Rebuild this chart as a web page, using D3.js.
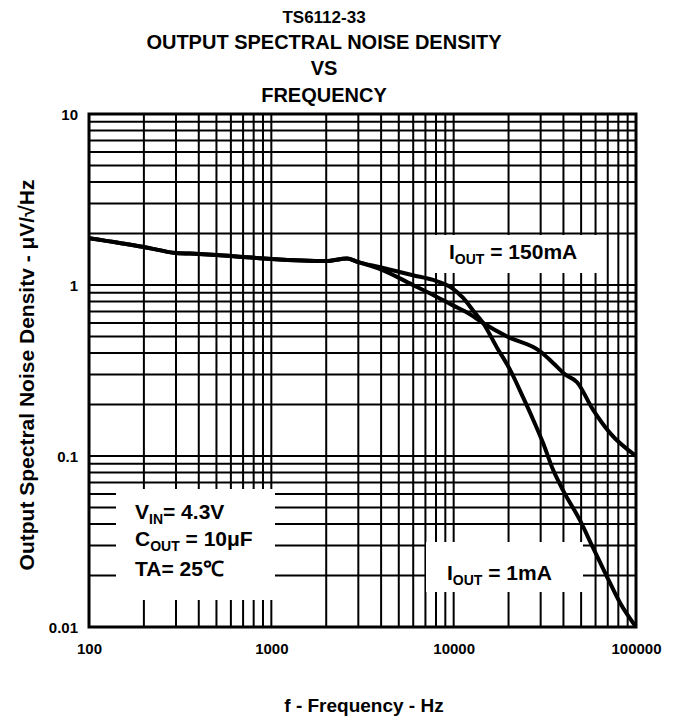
<!DOCTYPE html>
<html>
<head>
<meta charset="utf-8">
<script src="https://cdn.jsdelivr.net/npm/d3@7"></script>
<style>
  html, body { margin: 0; padding: 0; background: #fff; }
  svg { display: block; }
  text { font-family: "Liberation Sans", Arial, Helvetica, sans-serif; font-weight: bold; fill: #000; }
</style>
</head>
<body>
<svg id="chart" width="680" height="719"></svg>
<script>
// ---- data ----
const titleLines = ["TS6112-33", "OUTPUT SPECTRAL NOISE DENSITY", "VS", "FREQUENCY"];
const xTickValues = [100, 1000, 10000, 100000];
const xTickLabels = ["100", "1000", "10000", "100000"];
const yTickValues = [10, 1, 0.1, 0.01];
const yTickLabels = ["10", "1", "0.1", "0.01"];
const xAxisTitle = "f - Frequency - Hz";
const yAxisTitle = "Output Spectral Noise Densitv - μV/√Hz";

// shared low-frequency portion (both currents overlap)
const freqCommon  = [100, 200, 300, 400, 500, 700, 1000, 2000, 2600, 3000];
const noiseCommon = [1.88, 1.67, 1.54, 1.52, 1.50, 1.46, 1.42, 1.38, 1.43, 1.36];

// IOUT = 150mA
const freq150  = [3950, 5980, 7710, 9900, 11850, 14490, 19630, 29780, 35090, 40800, 47500, 58190, 72100, 100000];
const noise150 = [1.24, 1.00, 0.875, 0.76, 0.69, 0.60, 0.50, 0.41, 0.35, 0.30, 0.27, 0.186, 0.136, 0.10];

// IOUT = 1mA
const freq1  = [3950, 5980, 7710, 9800, 11270, 12780, 14490, 17290, 20370, 24040, 27290, 30930, 35090, 39810, 49330, 58190, 69470, 81850, 100000];
const noise1 = [1.27, 1.14, 1.07, 0.96, 0.84, 0.71, 0.60, 0.43, 0.32, 0.22, 0.163, 0.119, 0.083, 0.063, 0.042, 0.029, 0.0196, 0.0138, 0.010];

const conditionLines = [["V", "IN", "= 4.3V"], ["C", "OUT", " = 10μF"], ["TA= 25℃", "", ""]];

// ---- layout ----
const svg = d3.select("#chart");
const L = 89, R = 636, T = 114, B = 627;

const x = d3.scaleLog().domain([100, 100000]).range([L, R]);
const y = d3.scaleLog().domain([0.01, 10]).range([B, T]);

// titles
const titleY = [23, 49, 75, 102];
const titleSize = [17, 20, 20, 20];
svg.selectAll("text.title").data(titleLines).join("text")
  .attr("class", "title")
  .attr("x", 324).attr("y", (d, i) => titleY[i])
  .attr("text-anchor", "middle")
  .style("font-size", (d, i) => titleSize[i] + "px")
  .text(d => d);

// grid
const gridVals = (lo, hi) => {
  const out = [];
  for (let p = lo; p < hi; p++) for (let k = 1; k <= 9; k++) out.push(k * Math.pow(10, p));
  return out;
};
const xGrid = gridVals(2, 5).filter(v => v > 100);
const yGrid = gridVals(-2, 1).filter(v => v > 0.01);

const grid = svg.append("g");
grid.selectAll("line.v").data(xGrid).join("line")
  .attr("x1", d => x(d)).attr("x2", d => x(d))
  .attr("y1", T).attr("y2", B)
  .attr("stroke", "#000").attr("stroke-width", 2);
grid.selectAll("line.h").data(yGrid).join("line")
  .attr("y1", d => y(d)).attr("y2", d => y(d))
  .attr("x1", L).attr("x2", R)
  .attr("stroke", "#000").attr("stroke-width", 2);

// white annotation boxes masking the grid
const boxes = [
  {x0: 429, x1: 604, y0: 235, y1: 273},
  {x0: 116, x1: 275, y0: 489, y1: 600},
  {x0: 426, x1: 583, y0: 542, y1: 592}
];
svg.selectAll("rect.box").data(boxes).join("rect")
  .attr("x", d => d.x0).attr("y", d => d.y0)
  .attr("width", d => d.x1 - d.x0).attr("height", d => d.y1 - d.y0)
  .attr("fill", "#fff");

// plot border
svg.append("rect")
  .attr("x", L).attr("y", T).attr("width", R - L).attr("height", B - T)
  .attr("fill", "none").attr("stroke", "#000").attr("stroke-width", 3);

// curves
const series = [
  {f: freqCommon.concat(freq150), v: noiseCommon.concat(noise150)},
  {f: freqCommon.concat(freq1), v: noiseCommon.concat(noise1)}
];
svg.append("clipPath").attr("id", "clip").append("rect")
  .attr("x", L).attr("y", T).attr("width", R - L).attr("height", B - T);
const line = d3.line()
  .x(d => x(d[0])).y(d => y(d[1]))
  .curve(d3.curveMonotoneX);
svg.append("g").attr("clip-path", "url(#clip)")
  .selectAll("path").data(series).join("path")
  .attr("d", s => line(s.f.map((f, i) => [f, s.v[i]])))
  .attr("fill", "none").attr("stroke", "#000")
  .attr("stroke-width", 4).attr("stroke-linejoin", "round").attr("stroke-linecap", "round");

// axes (labels only; lines are the grid/border)
const xAxis = d3.axisBottom(x).tickValues(xTickValues)
  .tickFormat((d, i) => xTickLabels[i]).tickSize(0).tickPadding(0);
const gx = svg.append("g").attr("transform", `translate(0,${B})`).call(xAxis);
gx.select(".domain").remove();
gx.selectAll("text").attr("dy", null).attr("y", 27)
  .style("font-size", "15px")
  .style("font-family", '"Liberation Sans", Arial, sans-serif').style("font-weight", "bold");

const yAxis = d3.axisLeft(y).tickValues(yTickValues)
  .tickFormat((d, i) => yTickLabels[i]).tickSize(0).tickPadding(0);
const gy = svg.append("g").attr("transform", `translate(${L - 11},0)`).call(yAxis);
gy.select(".domain").remove();
gy.selectAll("text").attr("dy", "0.35em").attr("x", 0)
  .style("font-size", "15px")
  .style("font-family", '"Liberation Sans", Arial, sans-serif').style("font-weight", "bold");

// axis titles
svg.append("text").attr("x", 364).attr("y", 712).attr("text-anchor", "middle")
  .style("font-size", "19px").text(xAxisTitle);
svg.append("text").attr("transform", `translate(34,375) rotate(-90)`)
  .attr("text-anchor", "middle").style("font-size", "21px").text(yAxisTitle);

// annotations with subscripts
function subLabel(xp, yp, main, sub, rest, size) {
  const t = svg.append("text").attr("x", xp).attr("y", yp).style("font-size", size + "px");
  t.append("tspan").text(main);
  if (sub) {
    t.append("tspan").attr("dy", 5).style("font-size", Math.round(size * 0.66) + "px").text(sub);
    t.append("tspan").attr("dy", -5).text(rest);
  }
  return t;
}
subLabel(449, 259, "I", "OUT", " = 150mA", 21);
subLabel(447, 580, "I", "OUT", " = 1mA", 21);
const condY = [519, 546, 576];
conditionLines.forEach((c, i) => subLabel(135, condY[i], c[0], c[1], c[2], 21));
</script>
</body>
</html>
